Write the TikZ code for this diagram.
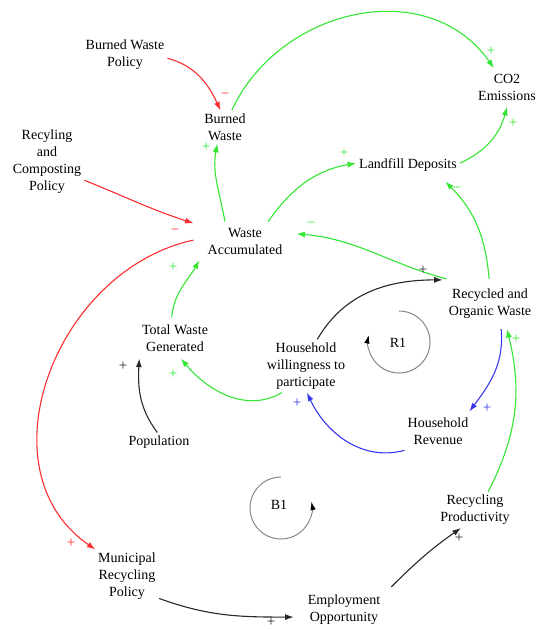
\documentclass[tikz,border=0pt]{standalone}
\usepackage{fontspec}
\setmainfont{Liberation Serif}
\usepackage{tikz}
\usetikzlibrary{arrows.meta}

\definecolor{linkgreen}{RGB}{50,230,50}
\definecolor{linkred}{RGB}{255,45,45}
\definecolor{linkblue}{RGB}{55,55,235}
\definecolor{linkblack}{RGB}{40,40,40}
\definecolor{loopgray}{RGB}{135,135,135}

\begin{document}
\begin{tikzpicture}[x=1pt, y=-1pt,
    var/.style={align=center, inner sep=3pt, font=\fontsize{14}{17}\selectfont},
    link/.style={line width=1.1pt, -{Latex[length=8.5pt,width=6pt]}},
    sgn/.style={inner sep=0pt, font=\fontsize{15}{15}\selectfont},
    loopline/.style={loopgray, line width=1pt, -{Latex[length=8.5pt,width=5.5pt,color=black]}}]

    \useasboundingbox (0,0) rectangle (538,630);

    % Variables
    \node[var] (bwp) at (125,54.5) {Burned Waste\\Policy};
    \node[var, inner ysep=6pt] (co2) at (507,87.5) {CO2\\Emissions};
    \node[var] (bw) at (225,127) {Burned\\Waste};
    \node[var] (rcp) at (47,162) {Recyling\\and\\Composting\\Policy};
    \node[var, inner ysep=10pt] (lfd) at (408,165) {Landfill Deposits};
    \node[var, inner xsep=14pt, inner ysep=6pt] (wa) at (245,241) {Waste\\Accumulated};
    \node[var, inner xsep=6pt, inner ysep=10pt] (row) at (490,304) {Recycled and\\Organic Waste};
    \node[var, inner ysep=7pt] (twg) at (175,338) {Total Waste\\Generated};
    \node[var] (hwp) at (306,366) {Household\\willingness to\\participate};
    \node[var, inner ysep=6pt] (hr) at (438,431) {Household\\Revenue};
    \node[var] (pop) at (159,442) {Population};
    \node[var] (rp) at (475,510) {Recycling\\Productivity};
    \node[var] (mrp) at (127,576) {Municipal\\Recycling\\Policy};
    \node[var, inner xsep=14pt, inner ysep=8pt] (eo) at (344,610) {Employment\\Opportunity};

    % Loops
    \coordinate (r1c) at (399,342);
    \coordinate (b1c) at (281,508);
    \node[var] (r1) at (398,343) {R1};
    \node[var] (b1) at (279,505) {B1};
    \draw[loopline] ([shift={(90:31pt)}]r1c) arc[start angle=90, end angle=-193, radius=31pt];
    \draw[loopline] ([shift={(90:31pt)}]b1c) arc[start angle=90, end angle=372, radius=31pt];

    % Burned waste and emissions
    \draw[link, linkred] (bwp.-5) to[out=-15, in=115] (bw.105);
    \draw[link, linkgreen] (bw.68) to[out=65, in=125, looseness=1.1] (co2.124);
    \draw[link, linkgreen] (wa.136) to[out=100, in=-100] (bw.-115);
    \draw[link, linkgreen] (wa.40) to[out=55, in=190] (lfd.178);
    \draw[link, linkgreen] (lfd.2) to[out=25, in=-105] (co2.-90);

    % Recycled and organic waste
    \draw[link, linkgreen] (row.92) to[out=95, in=-45] (lfd.-24);
    \draw[link, linkgreen] (row.150) to[out=165, in=-5] (wa.8);
    \draw[link, linkblue] (row.-66) to[out=-85, in=53] (hr.32);
    \draw[link, linkblue] (hr.-150) to[out=-165, in=-65] (hwp.-88);
    \draw[link, linkblack] (hwp.67) to[out=60, in=180] (row.153);

    % Waste accumulated
    \draw[link, linkred] (rcp.-26) to[out=-22, in=162] (wa.161);
    \draw[link, linkred] (wa.179) .. controls (55,270) and (-20,470) .. (mrp.140);
    \draw[link, linkgreen] (twg.99) to[out=85, in=-120] (wa.-157);
    \draw[link, linkblack] (pop.100) to[out=127, in=-93] (twg.-150);
    \draw[link, linkgreen] (hwp.-132) to[out=-150, in=-50] (twg.-74);

    % Policy and employment
    \draw[link, linkblack] (mrp.-35) to[out=-20, in=180] (eo.188);
    \draw[link, linkblack] (eo.26) to[out=45, in=-145] (rp.-128);
    \draw[link, linkgreen] (rp.54) to[out=63, in=-76] (row.-56);

    % Signs
    \node[sgn, linkred] (s1) at (225,96) {−};
    \node[sgn, linkgreen] (s2) at (491,51) {+};
    \node[sgn, linkgreen] (s3) at (206,147) {+};
    \node[sgn, linkgreen] (s4) at (344,153) {+};
    \node[sgn, linkgreen] (s5) at (513,123) {+};
    \node[sgn, linkgreen] (s6) at (457,190) {−};
    \node[sgn, linkgreen] (s7) at (311,225) {−};
    \node[sgn, linkred] (s8) at (175,232) {−};
    \node[sgn, linkred] (s9) at (71,543) {+};
    \node[sgn, linkgreen] (s10) at (173,267) {+};
    \node[sgn, linkblack] (s11) at (123,366) {+};
    \node[sgn, linkgreen] (s12) at (173,374) {+};
    \node[sgn, linkblack] (s13) at (423,270) {+};
    \node[sgn, linkblue] (s14) at (487,408) {+};
    \node[sgn, linkblue] (s15) at (297,403) {+};
    \node[sgn, linkgreen] (s16) at (516,339) {+};
    \node[sgn, linkblack] (s17) at (271,622) {+};
    \node[sgn, linkblack] (s18) at (459,538) {+};

\end{tikzpicture}
\end{document}
